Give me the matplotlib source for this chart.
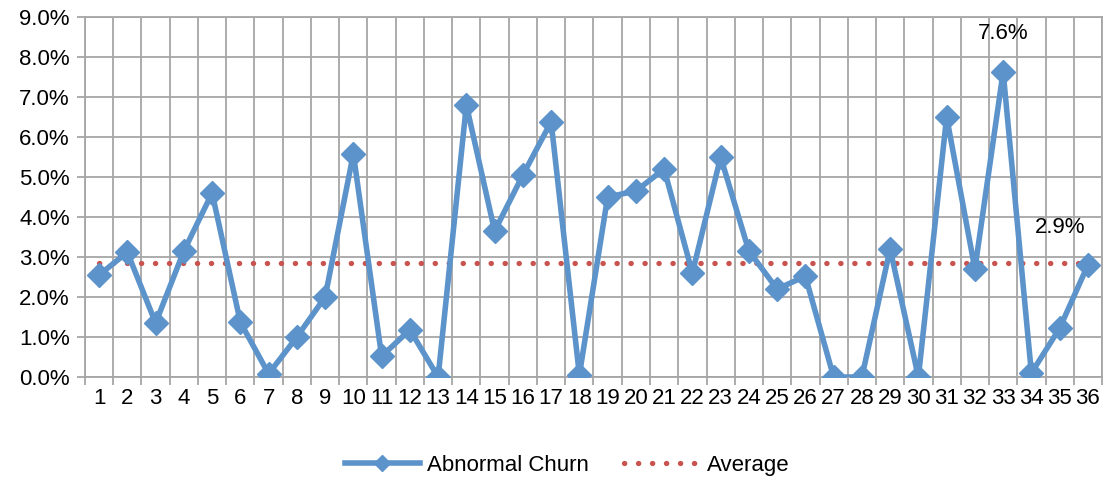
import numpy as np
import matplotlib.pyplot as plt
from matplotlib.ticker import FuncFormatter

# Abnormal churn per period (%)
periods = list(range(1, 37))
churn = [2.55, 3.12, 1.35, 3.15, 4.60, 1.37, 0.08, 1.00, 2.00, 5.58,
         0.52, 1.18, 0.00, 6.80, 3.65, 5.05, 6.38, 0.05, 4.50, 4.65,
         5.20, 2.60, 5.50, 3.15, 2.20, 2.52, 0.00, 0.00, 3.20, 0.00,
         6.50, 2.70, 7.63, 0.10, 1.22, 2.80]
average = 2.85

plt.rcParams['font.family'] = ['Liberation Sans', 'DejaVu Sans']
fs = 16

fig = plt.figure(figsize=(11.05, 4.79), dpi=100)
ax = fig.add_axes([0.0769, 0.2129, 0.9204, 0.7516])

grid_col = '#A6A6A6'
blue = '#5B93CA'
red = '#C8534F'

ax.plot(periods, churn, color=blue, lw=4, marker='D', markersize=12,
        label='Abnormal Churn', zorder=3)
ax.plot(periods, [average] * len(periods), color=red, lw=3.8,
        linestyle=(0, (0.05, 2.6)), dash_capstyle='round',
        label='Average', zorder=2)

# data labels
imax = int(np.argmax(churn))
ax.annotate(f'{churn[imax]:.1f}%', (periods[imax], churn[imax]),
            xytext=(0, 20), textcoords='offset points', ha='center',
            va='bottom', fontsize=fs)
ax.annotate(f'{average:.1f}%', (35, average), xytext=(0, 18),
            textcoords='offset points', ha='center', va='bottom', fontsize=fs)

ax.set_xlim(0.5, 36.5)
ax.set_ylim(0, 9)
ax.set_yticks(np.arange(0, 9.01, 1))
ax.yaxis.set_major_formatter(FuncFormatter(lambda v, p: f'{v:.1f}%'))

# boundary ticks + gridlines, labels at category centres
ax.set_xticks(np.arange(0.5, 37, 1))
ax.set_xticklabels([])
ax.set_xticks(periods, minor=True)
ax.set_xticklabels([str(p) for p in periods], minor=True)
ax.tick_params(axis='x', which='minor', length=0, labelsize=fs, pad=8)
ax.tick_params(axis='x', which='major', length=6, color=grid_col, width=1.3)
ax.tick_params(axis='y', length=6, color=grid_col, width=1.3, labelsize=fs, pad=5)

ax.grid(True, which='major', color=grid_col, lw=1.3)
ax.set_axisbelow(True)
for s in ax.spines.values():
    s.set_color(grid_col)
    s.set_linewidth(1.3)

leg = fig.legend(loc='center', bbox_to_anchor=(0.513, 0.028), ncol=2,
                 frameon=False, fontsize=fs, handlelength=3.4,
                 columnspacing=1.6, handletextpad=0.3, markerscale=0.7)

fig.savefig('out.png', dpi=100)
